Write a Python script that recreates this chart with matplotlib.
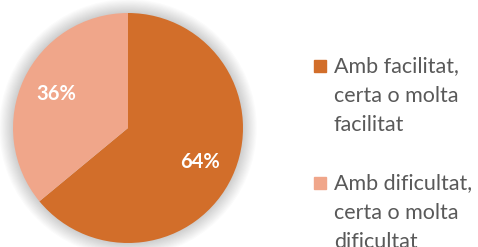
#Pie chart: facilitat / dificultat

#imports
import matplotlib
matplotlib.use("Agg")
import matplotlib.pyplot as plt
from matplotlib.patches import Circle, Rectangle

labels = [["Amb facilitat,", "certa o molta", "facilitat"],
          ["Amb dificultat,", "certa o molta", "dificultat"]]
values = [64, 36]
colors = ["#D26E2A", "#F0A68A"]

W, H = 478, 247
fig = plt.figure(figsize=(W / 100, H / 100), dpi=100)

#axes placed so the pie centre is at (128, 128) px with radius ~115 px
cx, cy, r = 128, 128, 115
lim = 1.15
half = r * lim
ax = fig.add_axes([(cx - half) / W, (H - cy - half) / H, 2 * half / W, 2 * half / H])

#soft shadow around the pie
for i in range(12):
    ax.add_patch(Circle((0, 0), 1.0 + 0.01 * (i + 1), color="#000000", alpha=0.016, lw=0, zorder=0))

wedges, texts, autotexts = ax.pie(values, colors=colors, startangle=90, counterclock=False,
                                  radius=1.0, autopct="%d%%", pctdistance=0.69,
                                  wedgeprops={"linewidth": 0},
                                  textprops={"color": "white", "fontsize": 14.5, "fontweight": "bold",
                                             "family": "Lato"})
for w in wedges:
    w.set_zorder(2)
for t in autotexts:
    t.set_zorder(3)

ax.set_xlim(-lim, lim)
ax.set_ylim(-lim, lim)
ax.set_aspect("equal")
ax.axis("off")

#legend drawn by hand so the last line runs off the figure like the original
sq_top = [60, 177]
line_gap = 29.5
for lines, col, top in zip(labels, colors, sq_top):
    fig.patches.append(Rectangle((314 / W, 1 - (top + 12) / H), 12 / W, 12 / H,
                                 transform=fig.transFigure, color=col, figure=fig))
    for k, line in enumerate(lines):
        base = top + 12 + k * line_gap
        fig.text(334 / W, 1 - base / H, line, ha="left", va="baseline", fontsize=15.5,
                 color="#595959", family="Lato")

fig.savefig("out.png", dpi=100)
